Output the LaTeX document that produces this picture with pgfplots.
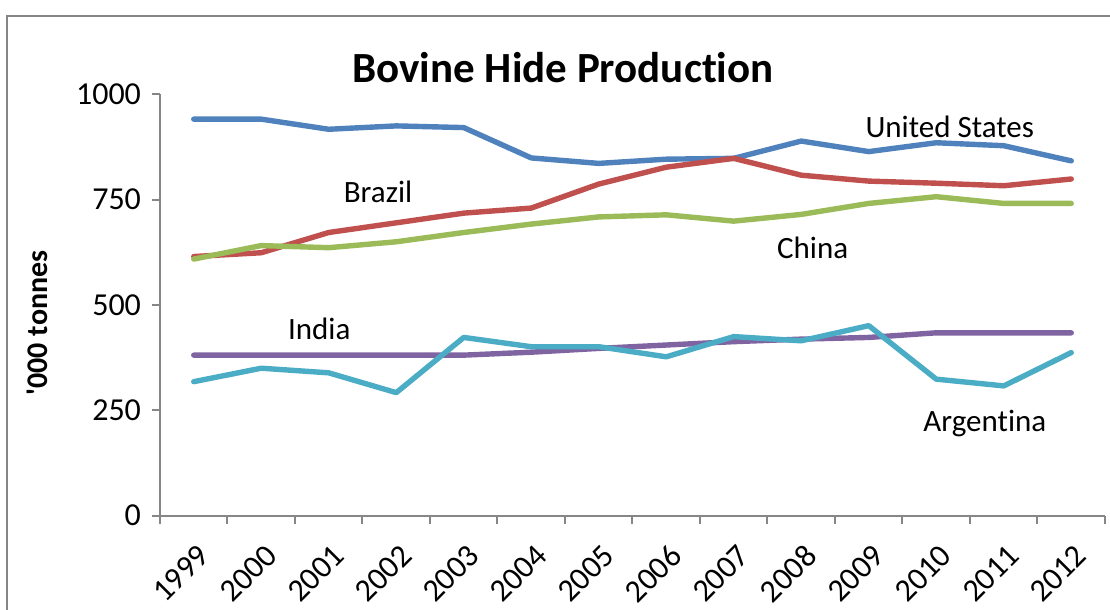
\documentclass[border=0pt]{standalone}
\usepackage{pgfplots}
\pgfplotsset{compat=1.18}
\usepackage{fontspec}
\setmainfont{Carlito}[Ligatures={NoCommon,NoRequired,NoContextual}]

\definecolor{xlblue}{HTML}{4F81BD}
\definecolor{xlred}{HTML}{C0504D}
\definecolor{xlgreen}{HTML}{9BBB59}
\definecolor{xlpurple}{HTML}{8064A2}
\definecolor{xlcyan}{HTML}{4BACC6}
\definecolor{axgray}{HTML}{868686}

\newcommand{\tickfont}{\fontsize{16}{19}\selectfont}
\newcommand{\lblfont}{\fontsize{15.5}{18}\selectfont}

\begin{document}
\begin{tikzpicture}
\path[use as bounding box] (0,0) rectangle (555pt,305pt);
% chart frame (partly cut at right and bottom)
\draw[axgray, line width=1pt] (3.5pt,0) -- (3.5pt,297pt) -- (555pt,297pt);

\node[font=\bfseries\fontsize{21.5}{26}\selectfont] at (281.5pt,271pt) {Bovine Hide Production};
\node[font=\bfseries\fontsize{15}{18}\selectfont, rotate=90] at (18.5pt,143.5pt) {\textquotesingle000 tonnes};

\begin{axis}[
    at={(80pt,47.15pt)}, anchor=south west,
    scale only axis,
    width=472.5pt, height=210.7pt,
    xmin=1998.5, xmax=2012.5,
    ymin=0, ymax=1000,
    axis lines*=left,
    axis line style={axgray, line width=1pt},
    ytick={0,250,500,750,1000},
    xtick={1999,...,2012},
    minor xtick={1998.5,1999.5,...,2012.5},
    tick align=outside,
    major tick length=4pt,
    minor tick length=4pt,
    major x tick style={draw=none},
    minor x tick style={axgray, line width=1pt},
    major y tick style={axgray, line width=1pt},
    /pgf/number format/assume math mode=true,
    /pgf/number format/1000 sep={},
    yticklabel style={font=\tickfont, xshift=-2pt},
    xticklabel style={font=\tickfont, xshift=7.5pt, yshift=-11pt, rotate=45, anchor=east},
    clip=false,
    every axis plot/.append style={line width=2.7pt, line join=round, line cap=round},
]
% United States
\addplot[xlblue] coordinates {
(1999,941) (2000,941) (2001,917) (2002,925) (2003,921) (2004,849) (2005,836) (2006,846) (2007,848) (2008,889) (2009,864) (2010,885) (2011,878) (2012,842)};
% Brazil
\addplot[xlred] coordinates {
(1999,615) (2000,624) (2001,672) (2002,695) (2003,718) (2004,730) (2005,787) (2006,827) (2007,848) (2008,808) (2009,794) (2010,789) (2011,783) (2012,799)};
% China
\addplot[xlgreen] coordinates {
(1999,609) (2000,641) (2001,636) (2002,650) (2003,672) (2004,692) (2005,709) (2006,714) (2007,699) (2008,715) (2009,741) (2010,757) (2011,741) (2012,741)};
% India
\addplot[xlpurple] coordinates {
(1999,381) (2000,381) (2001,381) (2002,381) (2003,381) (2004,388) (2005,397) (2006,405) (2007,413) (2008,419) (2009,423) (2010,434) (2011,434) (2012,434)};
% Argentina
\addplot[xlcyan] coordinates {
(1999,318) (2000,350) (2001,339) (2002,292) (2003,423) (2004,401) (2005,401) (2006,377) (2007,425) (2008,415) (2009,451) (2010,324) (2011,308) (2012,387)};

\node[font=\lblfont] at (axis cs:2010.2,922) {United States};
\node[font=\lblfont] at (axis cs:2001.73,768) {Brazil};
\node[font=\lblfont] at (axis cs:2008.17,635) {China};
\node[font=\lblfont] at (axis cs:2000.86,443) {India};
\node[font=\lblfont] at (axis cs:2010.72,218) {Argentina};
\end{axis}
\end{tikzpicture}
\end{document}
